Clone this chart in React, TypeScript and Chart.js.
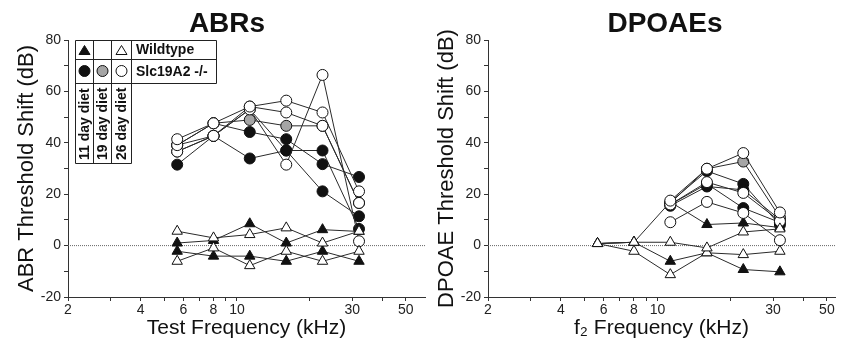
import React, { useEffect, useRef } from 'react';
import { Chart, registerables } from 'chart.js';
Chart.register(...registerables);

const FONT = '"Liberation Sans", Arial, Helvetica, sans-serif';

// Frequencies (kHz) shared by both panels
const FREQS = [5.66, 8, 11.3, 16, 22.6, 32];
const X_TICKS = [2, 3, 4, 5, 6, 7, 8, 9, 10, 20, 30, 40, 50];
const X_LABELS = [2, 4, 6, 8, 10, 30, 50];

// ABR threshold shifts (dB)
const abrKO11a = [31.5, 42.7, 33.9, 37.0, 21.1, 11.4];
const abrKO11b = [39.1, 47.6, 44.2, 41.4, 31.7, 26.7];
const abrKO11c = [36.6, 42.7, 53.0, 37.0, 37.0, 6.5];
const abrKO19 = [39.1, 47.6, 48.9, 46.6, 46.6, 16.6];
const abrKO26a = [41.4, 47.6, 54.1, 56.4, 51.8, 21.1];
const abrKO26b = [39.1, 42.7, 53.0, 31.5, 66.4, 1.7];
const abrKO26c = [36.6, 42.7, 54.1, 51.8, 46.6, 16.6];
const abrWT11a = [1.0, 2.0, 8.5, 1.0, 6.2, 5.5];
const abrWT11b = [-2.2, -4.1, -4.1, -6.1, -2.2, -6.1];
const abrWT26a = [5.6, 3.0, 4.3, 6.9, 1.0, 5.6];
const abrWT26b = [-6.1, -0.9, -7.8, -2.2, -6.1, -2.2];

// DPOAE threshold shifts (dB)
const dpKO11a = [null, null, 15.5, 23.0, 21.7, 10.1];
const dpKO11b = [null, null, 16.0, 24.0, 14.6, 9.0];
const dpKO11c = [null, null, 17.0, 29.0, 24.0, 8.0];
const dpKO19 = [null, null, 16.5, 29.9, 32.7, 11.0];
const dpKO26a = [null, null, 17.5, 29.9, 36.0, 12.9];
const dpKO26b = [null, null, 16.0, 24.7, 20.5, 9.5];
const dpKO26c = [null, null, 9.1, 17.0, 12.7, 2.1];
const dpWT11a = [0.8, 1.3, -6.1, -2.8, -9.3, -10.2];
const dpWT11b = [0.8, 1.3, 17.0, 8.2, 8.8, 7.0];
const dpWT26a = [0.8, 1.3, 1.3, -0.9, 5.3, 6.5];
const dpWT26b = [0.8, -2.2, -11.3, -2.8, -3.5, -2.2];

type Kind = 'wt11' | 'wt26' | 'ko11' | 'ko19' | 'ko26';
const STYLE: Record<Kind, { shape: string; fill: string; r: number }> = {
  wt11: { shape: 'triangle', fill: '#111', r: 6 },
  wt26: { shape: 'triangle', fill: '#fff', r: 6 },
  ko11: { shape: 'circle', fill: '#111', r: 5.5 },
  ko19: { shape: 'circle', fill: '#a5a5a5', r: 5.5 },
  ko26: { shape: 'circle', fill: '#fff', r: 5.5 },
};

function series(vals: (number | null)[], kind: Kind) {
  const s = STYLE[kind];
  return {
    data: FREQS.map((f, i) => ({ x: f, y: vals[i] })).filter((p) => p.y !== null),
    borderColor: '#2a2a2a',
    borderWidth: 1,
    pointStyle: s.shape,
    pointRadius: s.r,
    pointBackgroundColor: s.fill,
    pointBorderColor: '#111',
    pointBorderWidth: 1,
    fill: false,
    tension: 0,
  };
}

function zeroLine(xmax: number) {
  return {
    data: [{ x: 2, y: 0 }, { x: xmax, y: 0 }],
    borderColor: '#666',
    borderWidth: 1,
    borderDash: [1, 1],
    pointRadius: 0,
    fill: false,
  };
}

const panelTitle = {
  id: 'panelTitle',
  afterDraw(chart: any, _a: any, opts: any) {
    const { ctx } = chart;
    ctx.save();
    ctx.font = `bold 28px ${FONT}`;
    ctx.fillStyle = '#111';
    ctx.textAlign = 'center';
    ctx.textBaseline = 'middle';
    ctx.fillText(opts.text, opts.x, opts.y);
    ctx.restore();
  },
};

const legendBox = {
  id: 'legendBox',
  afterDraw(chart: any, _a: any, opts: any) {
    if (!opts.show) return;
    const { ctx } = chart;
    const x0 = 75, y0 = 40;
    const colW = [18, 18, 20, 85];
    const rowH = [19, 24, 80];
    const xs = [x0];
    colW.forEach((w) => xs.push(xs[xs.length - 1] + w));
    const ys = [y0];
    rowH.forEach((h) => ys.push(ys[ys.length - 1] + h));
    ctx.save();
    ctx.fillStyle = '#fff';
    ctx.strokeStyle = '#222';
    ctx.lineWidth = 1;
    ctx.fillRect(xs[0], ys[0], xs[4] - xs[0], ys[2] - ys[0]);
    ctx.fillRect(xs[0], ys[2], xs[3] - xs[0], rowH[2]);
    ctx.beginPath();
    ctx.moveTo(xs[0] + 0.5, ys[0] + 0.5);
    ctx.lineTo(xs[4] + 0.5, ys[0] + 0.5);
    ctx.lineTo(xs[4] + 0.5, ys[2] + 0.5);
    ctx.lineTo(xs[3] + 0.5, ys[2] + 0.5);
    ctx.lineTo(xs[3] + 0.5, ys[3] + 0.5);
    ctx.lineTo(xs[0] + 0.5, ys[3] + 0.5);
    ctx.closePath();
    ctx.stroke();
    ctx.beginPath();
    ctx.moveTo(xs[0], ys[1] + 0.5); ctx.lineTo(xs[4], ys[1] + 0.5);
    ctx.moveTo(xs[0], ys[2] + 0.5); ctx.lineTo(xs[3], ys[2] + 0.5);
    for (let i = 1; i <= 3; i++) {
      ctx.moveTo(xs[i] + 0.5, ys[0]); ctx.lineTo(xs[i] + 0.5, ys[3]);
    }
    ctx.stroke();
    const cx = (i: number) => (xs[i] + xs[i + 1]) / 2;
    const cy = (j: number) => (ys[j] + ys[j + 1]) / 2;
    const tri = (x: number, y: number, fill: string) => {
      ctx.beginPath();
      ctx.moveTo(x, y - 5); ctx.lineTo(x + 5.5, y + 4); ctx.lineTo(x - 5.5, y + 4); ctx.closePath();
      ctx.fillStyle = fill; ctx.fill(); ctx.strokeStyle = '#111'; ctx.stroke();
    };
    const circ = (x: number, y: number, fill: string) => {
      ctx.beginPath(); ctx.arc(x, y, 5.5, 0, Math.PI * 2);
      ctx.fillStyle = fill; ctx.fill(); ctx.strokeStyle = '#111'; ctx.stroke();
    };
    tri(cx(0) + 0.5, cy(0) + 1, '#111');
    tri(cx(2) + 0.5, cy(0) + 1, '#fff');
    circ(cx(0) + 0.5, cy(1), '#111');
    circ(cx(1) + 0.5, cy(1), '#a5a5a5');
    circ(cx(2) + 0.5, cy(1), '#fff');
    ctx.fillStyle = '#111';
    ctx.font = `bold 14px ${FONT}`;
    ctx.textAlign = 'left';
    ctx.textBaseline = 'middle';
    ctx.fillText('Wildtype', xs[3] + 5, cy(0) + 1);
    ctx.fillText('Slc19A2 -/-', xs[3] + 5, cy(1) + 1);
    const diets = ['11 day diet', '19 day diet', '26 day diet'];
    diets.forEach((d, i) => {
      ctx.save();
      ctx.translate(cx(i) + 1, ys[3] - 3);
      ctx.rotate(-Math.PI / 2);
      ctx.textAlign = 'left';
      ctx.fillText(d, 0, 0);
      ctx.restore();
    });
    ctx.restore();
  },
};

function makeConfig(opts: {
  datasets: any[]; xmax: number; yTitle: string; xTitle: string; title: string;
  titleX: number; padRight: number; legend: boolean;
}) {
  return {
    type: 'line' as const,
    data: { datasets: opts.datasets },
    plugins: [panelTitle, legendBox],
    options: {
      animation: false,
      responsive: false,
      maintainAspectRatio: false,
      layout: { padding: { top: 40, right: opts.padRight, left: 0, bottom: 0 } },
      plugins: {
        legend: { display: false },
        tooltip: { enabled: false },
        title: { display: false },
        panelTitle: { text: opts.title, x: opts.titleX, y: 24 },
        legendBox: { show: opts.legend },
      },
      scales: {
        x: {
          type: 'logarithmic',
          min: 2,
          max: opts.xmax,
          afterFit: (s: any) => { s.height = 48; },
          afterBuildTicks: (s: any) => { s.ticks = X_TICKS.map((v) => ({ value: v })); },
          ticks: {
            autoSkip: false,
            maxRotation: 0,
            padding: 1,
            color: '#222',
            font: { family: FONT, size: 14 },
            callback: (v: any) => (X_LABELS.includes(Number(v)) ? String(v) : ''),
          },
          grid: { drawOnChartArea: false, drawTicks: true, tickLength: 4, color: '#333' },
          border: { display: true, color: '#333', width: 1 },
          title: {
            display: true, text: opts.xTitle, color: '#111',
            font: { family: FONT, size: 21 }, padding: { top: 0, bottom: 4 },
          },
        },
        y: {
          type: 'linear',
          min: -20,
          max: 80,
          afterFit: (s: any) => { s.width = 68; },
          ticks: {
            stepSize: 10,
            padding: 3,
            color: '#222',
            font: { family: FONT, size: 14 },
            callback: (v: any) => (Number(v) % 20 === 0 ? String(v) : ''),
          },
          grid: { drawOnChartArea: false, drawTicks: true, tickLength: 4, color: '#333' },
          border: { display: true, color: '#333', width: 1 },
          title: {
            display: true, text: opts.yTitle, color: '#111',
            font: { family: FONT, size: 22 }, padding: { top: 14, bottom: 0 },
          },
        },
      },
    },
  };
}

function Panel(props: { left: number; width: number; cfg: any }) {
  const ref = useRef<HTMLCanvasElement | null>(null);
  useEffect(() => {
    if (!ref.current) return;
    const chart = new Chart(ref.current, props.cfg);
    return () => chart.destroy();
  }, []);
  return (
    <canvas
      ref={ref}
      width={props.width}
      height={345}
      style={{ position: 'absolute', left: props.left, top: 0, width: props.width, height: 345 }}
    />
  );
}

// Chart.js paints the first dataset on top, so the list runs top layer -> bottom layer.
export default function App() {
  const abrSets = [
    series(abrWT26a, 'wt26'), series(abrWT26b, 'wt26'),
    series(abrWT11a, 'wt11'), series(abrWT11b, 'wt11'),
    series(abrKO26a, 'ko26'), series(abrKO26b, 'ko26'), series(abrKO26c, 'ko26'),
    series(abrKO19, 'ko19'),
    series(abrKO11a, 'ko11'), series(abrKO11b, 'ko11'), series(abrKO11c, 'ko11'),
    zeroLine(60),
  ];
  const dpSets = [
    series(dpWT26a, 'wt26'), series(dpWT26b, 'wt26'),
    series(dpWT11a, 'wt11'),
    series(dpKO26a, 'ko26'), series(dpKO26b, 'ko26'), series(dpKO26c, 'ko26'),
    series(dpWT11b, 'wt11'),
    series(dpKO19, 'ko19'),
    series(dpKO11a, 'ko11'), series(dpKO11b, 'ko11'), series(dpKO11c, 'ko11'),
    zeroLine(54),
  ];
  const abrCfg = makeConfig({
    datasets: abrSets, xmax: 60, yTitle: 'ABR Threshold Shift (dB)',
    xTitle: 'Test Frequency (kHz)', title: 'ABRs', titleX: 227, padRight: 5, legend: true,
  });
  const dpCfg = makeConfig({
    datasets: dpSets, xmax: 54, yTitle: 'DPOAE Threshold Shift (dB)',
    xTitle: 'f\u2082 Frequency (kHz)', title: 'DPOAEs', titleX: 245, padRight: 0, legend: false,
  });
  return (
    <div style={{ position: 'fixed', left: 0, top: 0, width: 842, height: 345, overflow: 'hidden', background: '#fff' }}>
      <Panel left={0} width={432} cfg={abrCfg} />
      <Panel left={420} width={422} cfg={dpCfg} />
    </div>
  );
}
